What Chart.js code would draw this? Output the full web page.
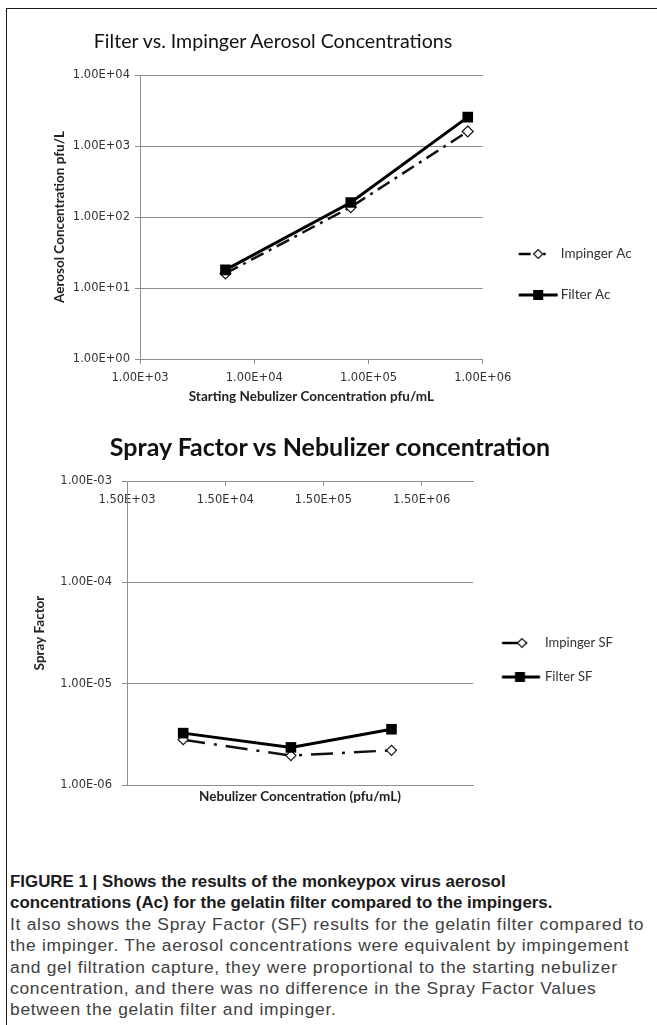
<!DOCTYPE html>
<html lang="en">
<head>
<meta charset="utf-8">
<title>Figure 1</title>
<script src="https://cdn.jsdelivr.net/npm/chart.js@4.4.1/dist/chart.umd.min.js"></script>
<style>
  html, body { margin: 0; padding: 0; background: #fff; }
  body { position: relative; width: 657px; height: 1025px; overflow: hidden; font-family: Lato, sans-serif; }
  .frame { position: absolute; left: 6px; top: 8px; width: 720px; height: 1100px; border-left: 1.5px solid #1a1a1a; border-top: 1.5px solid #1a1a1a; }
  canvas { position: absolute; left: 8px; }
  #acChart { top: 10px; }
  #sfChart { top: 412px; }
  .chart-title { position: absolute; transform: translate(-50%, -50%); white-space: nowrap; line-height: 1; color: #111; }
  #acTitle { left: 273px; top: 41px; font-size: 19.6px; }
  #sfTitle { left: 330px; top: 446px; font-size: 25px; font-weight: bold; }
  .caption { position: absolute; left: 10px; top: 871px; font-family: "Liberation Sans", Arial, sans-serif; font-size: 17.4px; letter-spacing: 0.72px; line-height: 21.4px; color: #404040; white-space: nowrap; }
  .caption b { color: #1c1c1c; font-size: 16.9px; letter-spacing: 0; }
</style>
</head>
<body>
<div class="frame"></div>
<canvas id="acChart" width="649" height="400"></canvas>
<canvas id="sfChart" width="649" height="400"></canvas>
<div class="chart-title" id="acTitle">Filter vs. Impinger Aerosol Concentrations</div>
<div class="chart-title" id="sfTitle">Spray Factor vs Nebulizer concentration</div>
<div class="caption">
<b>FIGURE 1 | Shows the results of the monkeypox virus aerosol</b><br>
<b>concentrations (Ac) for the gelatin filter compared to the impingers.</b><br>
It also shows the Spray Factor (SF) results for the gelatin filter compared to<br>
the impinger. The aerosol concentrations were equivalent by impingement<br>
and gel filtration capture, they were proportional to the starting nebulizer<br>
concentration, and there was no difference in the Spray Factor Values<br>
between the gelatin filter and impinger.
</div>
<script>
// values
const nebulizerConc = [5.6e3, 7.0e4, 7.4e5];
const impingerAc = [16, 138, 1600];
const filterAc = [18, 160, 2550];
const impingerSF = [2.8e-6, 1.95e-6, 2.2e-6];
const filterSF = [3.25e-6, 2.35e-6, 3.55e-6];

const acXTicks = [1e3, 1e4, 1e5, 1e6];
const acXLabels = ["1.00E+03", "1.00E+04", "1.00E+05", "1.00E+06"];
const acYTicks = [1, 10, 100, 1000, 10000];
const acYLabels = ["1.00E+00", "1.00E+01", "1.00E+02", "1.00E+03", "1.00E+04"];
const sfXTicks = [1.5e3, 1.5e4, 1.5e5, 1.5e6];
const sfXLabels = ["1.50E+03", "1.50E+04", "1.50E+05", "1.50E+06"];
const sfYTicks = [1e-6, 1e-5, 1e-4, 1e-3];
const sfYLabels = ["1.00E-06", "1.00E-05", "1.00E-04", "1.00E-03"];

const acLegend = ["Impinger Ac", "Filter Ac"];
const sfLegend = ["Impinger SF", "Filter SF"];

const gridGray = "#8e8e8e";
const tickFont = { family: "DejaVu Sans", size: 11.5 };
const axisTitleFont = { family: "Lato", size: 13.5, weight: "bold" };

function points(xs, ys) {
    return xs.map((x, i) => ({ x, y: ys[i] }));
}

function fixedTicks(values) {
    return (scale) => { scale.ticks = values.map((value) => ({ value })); };
}

// same sum chart.js does for a vertical legend, so the plot edge stays put
function legendWidth(texts, font, padding, boxWidth) {
    const ctx = document.createElement("canvas").getContext("2d");
    ctx.font = font.size + "px " + font.family;
    const widest = Math.max(...texts.map((t) => ctx.measureText(t).width));
    return padding + boxWidth + font.size / 2 + widest + 10;
}

// small canvas used as legend point style (line + marker, like excel)
function glyph(center, x0, x1, paint) {
    const half = Math.ceil(Math.max(center - x0, x1 - center)) + 3;
    const c = document.createElement("canvas");
    c.width = half * 2;
    c.height = 16;
    const g = c.getContext("2d");
    const left = center - half;
    paint(g, (x) => x - left, 8);
    return c;
}

function seg(g, x0, x1, y, w) {
    g.strokeStyle = "#000";
    g.lineWidth = w;
    g.beginPath();
    g.moveTo(x0, y);
    g.lineTo(x1, y);
    g.stroke();
}

function diamond(g, x, y, r) {
    g.beginPath();
    g.moveTo(x - r, y);
    g.lineTo(x, y - r);
    g.lineTo(x + r, y);
    g.lineTo(x, y + r);
    g.closePath();
    g.fillStyle = "#fff";
    g.fill();
    g.lineWidth = 1.2;
    g.strokeStyle = "#111";
    g.stroke();
}

function square(g, x, y, s) {
    g.fillStyle = "#000";
    g.fillRect(x - s / 2, y - s / 2, s, s);
}

function legendItem(text, pointStyle, datasetIndex) {
    return { text, pointStyle, datasetIndex, hidden: false, lineWidth: 0, fontColor: "#333" };
}

function initAcChart() {
    const canvas = document.getElementById("acChart");
    const center = 531.4 - 8;
    const legendFont = { family: "Lato", size: 13.5 };
    const legendPad = 27.5;
    const boxW = 43.75;
    const plotRight = 482 - 8;
    const padRight = canvas.width - plotRight - legendWidth(acLegend, legendFont, legendPad, boxW);

    const impGlyph = glyph(center, 518 - 8, 557 - 8, (g, X, y) => {
        seg(g, X(510), X(522), y, 2.5);
        seg(g, X(534.5), X(537), y, 2.5);
        diamond(g, X(529.5), y, 4.5);
    });
    const filGlyph = glyph(center, 518 - 8, 557 - 8, (g, X, y) => {
        seg(g, X(510), X(549), y, 3);
        square(g, X(529.5), y, 10);
    });

    new Chart(canvas, {
        type: "line",
        data: {
            datasets: [{
                label: acLegend[0],
                data: points(nebulizerConc, impingerAc),
                xAxisID: "x",
                order: 1,
                borderColor: "#111",
                borderWidth: 2.5,
                borderDash: [14, 6, 3, 6],
                pointStyle: "rectRot",
                pointRadius: 5.5,
                pointBackgroundColor: "#fff",
                pointBorderColor: "#111",
                pointBorderWidth: 1.2,
                tension: 0
            }, {
                label: acLegend[1],
                data: points(nebulizerConc, filterAc),
                xAxisID: "x",
                order: 0,
                borderColor: "#000",
                borderWidth: 3,
                pointStyle: "rect",
                pointRadius: 7.5,
                pointBackgroundColor: "#000",
                pointBorderColor: "#000",
                pointBorderWidth: 0,
                tension: 0
            }]
        },
        options: {
            responsive: false,
            animation: false,
            events: [],
            layout: { padding: { top: 65, right: padRight, bottom: 0, left: 0 } },
            plugins: {
                tooltip: { enabled: false },
                legend: {
                    position: "right",
                    align: "start",
                    fullSize: false,
                    title: { display: true, text: " ", font: { size: 10 }, padding: { top: 132.75, bottom: 0 } },
                    labels: {
                        usePointStyle: true,
                        pointStyleWidth: boxW,
                        padding: legendPad,
                        font: legendFont,
                        color: "#333",
                        generateLabels: () => [
                            legendItem(acLegend[0], impGlyph, 0),
                            legendItem(acLegend[1], filGlyph, 1)
                        ]
                    }
                }
            },
            scales: {
                x: {
                    type: "logarithmic",
                    position: "bottom",
                    min: 1e3,
                    max: 1e6,
                    afterBuildTicks: fixedTicks(acXTicks),
                    afterFit: (scale) => { scale.height = 51; },
                    ticks: { callback: (v, i) => acXLabels[i], font: tickFont, color: "#333", padding: 7.5, maxRotation: 0, autoSkip: false },
                    grid: { drawOnChartArea: false, color: gridGray, tickLength: 5 },
                    border: { color: gridGray, width: 1 },
                    title: { display: true, text: "Starting Nebulizer Concentration pfu/mL", font: axisTitleFont, color: "#222", padding: { top: 0, bottom: 5 } }
                },
                y: {
                    type: "logarithmic",
                    min: 1,
                    max: 1e4,
                    afterBuildTicks: fixedTicks(acYTicks),
                    afterFit: (scale) => { scale.width = 132; },
                    ticks: { callback: (v, i) => acYLabels[i], font: tickFont, color: "#333", padding: 5, autoSkip: false },
                    grid: { color: gridGray, lineWidth: 1, tickLength: 5 },
                    border: { color: gridGray, width: 1 },
                    title: { display: true, text: "Aerosol Concentration pfu/L", font: axisTitleFont, color: "#222", padding: { top: 44, bottom: 0 } }
                }
            }
        }
    });
}

function initSfChart() {
    const canvas = document.getElementById("sfChart");
    const center = 516.25 - 8;
    const legendFont = { family: "Lato", size: 13 };
    const legendPad = 21;
    const boxW = 44.5;
    const plotRight = 473 - 8;
    const padRight = canvas.width - plotRight - legendWidth(sfLegend, legendFont, legendPad, boxW);

    const impGlyph = glyph(center, 502 - 8, 540 - 8, (g, X, y) => {
        seg(g, X(494), X(519), y, 2.5);
        diamond(g, X(514), y, 4.5);
    });
    const filGlyph = glyph(center, 502 - 8, 540 - 8, (g, X, y) => {
        seg(g, X(494), X(532), y, 3);
        square(g, X(512), y, 10);
    });

    new Chart(canvas, {
        type: "line",
        data: {
            datasets: [{
                label: sfLegend[0],
                data: points(nebulizerConc, impingerSF),
                xAxisID: "x",
                order: 1,
                borderColor: "#111",
                borderWidth: 2.5,
                borderDash: [22, 9, 3, 9],
                pointStyle: "rectRot",
                pointRadius: 5,
                pointBackgroundColor: "#fff",
                pointBorderColor: "#111",
                pointBorderWidth: 1.2,
                tension: 0
            }, {
                label: sfLegend[1],
                data: points(nebulizerConc, filterSF),
                xAxisID: "x",
                order: 0,
                borderColor: "#000",
                borderWidth: 3,
                pointStyle: "rect",
                pointRadius: 7.5,
                pointBackgroundColor: "#000",
                pointBorderColor: "#000",
                pointBorderWidth: 0,
                tension: 0
            }]
        },
        options: {
            responsive: false,
            animation: false,
            events: [],
            layout: { padding: { top: 69, right: padRight, bottom: 0, left: 0 } },
            plugins: {
                tooltip: { enabled: false },
                legend: {
                    position: "right",
                    align: "start",
                    fullSize: false,
                    title: { display: true, text: " ", font: { size: 10 }, padding: { top: 122.5, bottom: 0 } },
                    labels: {
                        usePointStyle: true,
                        pointStyleWidth: boxW,
                        padding: legendPad,
                        font: legendFont,
                        color: "#333",
                        generateLabels: () => [
                            legendItem(sfLegend[0], impGlyph, 0),
                            legendItem(sfLegend[1], filGlyph, 1)
                        ]
                    }
                }
            },
            scales: {
                x: {
                    type: "logarithmic",
                    position: "bottom",
                    min: 1.5e3,
                    max: 5e6,
                    afterFit: (scale) => { scale.height = 27; },
                    ticks: { display: false },
                    grid: { drawOnChartArea: false, drawTicks: false, color: gridGray },
                    border: { color: gridGray, width: 1 },
                    title: { display: true, text: "Nebulizer Concentration (pfu/mL)", font: axisTitleFont, color: "#222", padding: { top: 0, bottom: 7 } }
                },
                // the labelled axis crosses at the top of the value axis
                x2: {
                    type: "logarithmic",
                    position: { y: 1e-3 },
                    min: 1.5e3,
                    max: 5e6,
                    afterBuildTicks: fixedTicks(sfXTicks),
                    afterFit: (scale) => { scale.height = 0; },
                    ticks: { callback: (v, i) => sfXLabels[i], font: tickFont, color: "#333", padding: 8.5, maxRotation: 0, autoSkip: false },
                    grid: { drawOnChartArea: false, color: gridGray, tickLength: 4 },
                    border: { color: gridGray, width: 1 }
                },
                y: {
                    type: "logarithmic",
                    min: 1e-6,
                    max: 1e-3,
                    afterBuildTicks: fixedTicks(sfYTicks),
                    afterFit: (scale) => { scale.width = 119; },
                    ticks: { callback: (v, i) => sfYLabels[i], font: tickFont, color: "#333", padding: 10, autoSkip: false },
                    grid: { color: gridGray, lineWidth: 1, tickLength: 5 },
                    border: { color: gridGray, width: 1 },
                    title: { display: true, text: "Spray Factor", font: axisTitleFont, color: "#222", padding: { top: 24, bottom: 0 } }
                }
            }
        }
    });
}

initAcChart();
initSfChart();
</script>
</body>
</html>
